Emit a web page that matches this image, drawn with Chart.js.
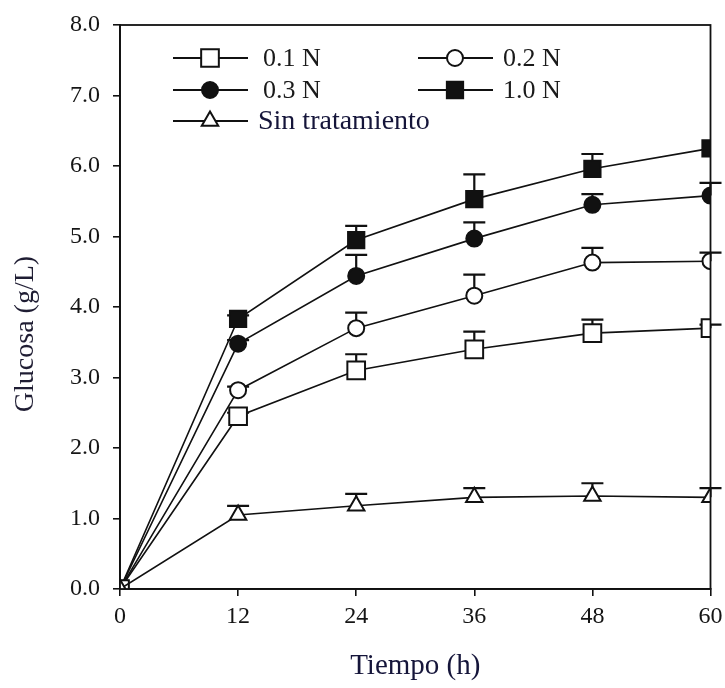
<!DOCTYPE html>
<html>
<head>
<meta charset="utf-8">
<script src="https://cdn.jsdelivr.net/npm/chart.js@4.4.1/dist/chart.umd.min.js"></script>
<style>
  html, body { margin: 0; padding: 0; background: #fff; }
  #wrap { width: 725px; height: 688px; }
</style>
</head>
<body>
<div id="wrap"><canvas id="glucosaChart"></canvas></div>
<script>
// tiempo (h)
const tiempo = [0, 12, 24, 36, 48, 60];
const yTicks = [0, 1, 2, 3, 4, 5, 6, 7, 8];

// glucosa (g/L) por tratamiento, con desviacion (solo barra superior)
const n01 = [0, 2.45, 3.10, 3.40, 3.63, 3.70];
const n01Err = [0, 0.05, 0.23, 0.25, 0.19, 0.05];
const n02 = [0, 2.82, 3.70, 4.16, 4.63, 4.65];
const n02Err = [0, 0.05, 0.22, 0.30, 0.21, 0.12];
const n03 = [0, 3.48, 4.44, 4.97, 5.45, 5.58];
const n03Err = [0, 0.05, 0.30, 0.23, 0.15, 0.18];
const n10 = [0, 3.83, 4.95, 5.53, 5.96, 6.25];
const n10Err = [0, 0.05, 0.20, 0.35, 0.21, 0.0];
const sinTrat = [0, 1.05, 1.18, 1.30, 1.32, 1.30];
const sinTratErr = [0, 0.13, 0.17, 0.13, 0.18, 0.13];

const serif = '"Liberation Serif", "DejaVu Serif", serif';

function serie(label, values, errs, style, filled, radius, legendRow, legendCol, fontSize, color) {
  return {
    label: label,
    data: tiempo.map((t, i) => ({ x: t, y: values[i] })),
    errs: errs,
    borderColor: '#111',
    borderWidth: 1.6,
    pointStyle: style,
    pointRadius: radius,
    pointHoverRadius: radius,
    pointBorderWidth: 2,
    pointBorderColor: '#111',
    pointBackgroundColor: filled ? '#111' : '#fff',
    tension: 0,
    legendRow: legendRow,
    legendCol: legendCol,
    legendFont: fontSize,
    legendColor: color
  };
}

// dataset 0 se dibuja encima
const datasets = [
  serie('Sin tratamiento', sinTrat, sinTratErr, 'triangle', false, 9.5, 2, 0, 28, '#15153a'),
  serie('0.1 N', n01, n01Err, 'rect', false, 12.5, 0, 0, 26, '#1a1a1a'),
  serie('0.2 N', n02, n02Err, 'circle', false, 8, 0, 1, 26, '#1a1a1a'),
  serie('0.3 N', n03, n03Err, 'circle', true, 8, 1, 0, 26, '#1a1a1a'),
  serie('1.0 N', n10, n10Err, 'rect', true, 11.5, 1, 1, 26, '#1a1a1a')
];

// barras de error hacia arriba con tope
const errorBars = {
  id: 'errorBars',
  beforeDatasetsDraw(chart) {
    const ctx = chart.ctx;
    const xs = chart.scales.x, ys = chart.scales.y;
    ctx.save();
    ctx.strokeStyle = '#111';
    ctx.lineWidth = 2.2;
    chart.data.datasets.forEach(ds => {
      ds.data.forEach((p, i) => {
        const e = ds.errs[i];
        if (!e) return;
        const px = xs.getPixelForValue(p.x);
        const y0 = ys.getPixelForValue(p.y);
        const y1 = ys.getPixelForValue(p.y + e);
        ctx.beginPath();
        ctx.moveTo(px, y0);
        ctx.lineTo(px, y1);
        ctx.moveTo(px - 11, y1);
        ctx.lineTo(px + 11, y1);
        ctx.stroke();
      });
    });
    ctx.restore();
  }
};

// marco completo del area de trazado y titulo vertical
const frame = {
  id: 'frame',
  afterDraw(chart) {
    const a = chart.chartArea, ctx = chart.ctx;
    ctx.save();
    ctx.strokeStyle = '#111';
    ctx.lineWidth = 1.8;
    ctx.strokeRect(a.left, a.top, a.right - a.left, a.bottom - a.top);
    ctx.translate(26, 334);
    ctx.rotate(-Math.PI / 2);
    ctx.font = '28px ' + serif;
    ctx.fillStyle = '#1f1d33';
    ctx.textAlign = 'center';
    ctx.textBaseline = 'middle';
    ctx.fillText('Glucosa (g/L)', 0, 0);
    ctx.restore();
  }
};

// leyenda en dos columnas dentro del area
const innerLegend = {
  id: 'innerLegend',
  afterDraw(chart) {
    const ctx = chart.ctx;
    const colX = [173, 418];
    const textX = [263, 503];
    const rowY = [58, 90, 121];
    ctx.save();
    chart.data.datasets.forEach(ds => {
      const x0 = colX[ds.legendCol], y = rowY[ds.legendRow];
      ctx.strokeStyle = '#111';
      ctx.lineWidth = 1.8;
      ctx.beginPath();
      ctx.moveTo(x0, y);
      ctx.lineTo(x0 + 75, y);
      ctx.stroke();
      ctx.fillStyle = ds.pointBackgroundColor;
      ctx.strokeStyle = '#111';
      ctx.lineWidth = 2;
      Chart.helpers.drawPoint(ctx, { pointStyle: ds.pointStyle, radius: ds.pointRadius, borderWidth: 2, rotation: 0 }, x0 + 37, y);
      ctx.fillStyle = ds.legendColor;
      ctx.font = ds.legendFont + 'px ' + serif;
      ctx.textBaseline = 'middle';
      ctx.fillText(ds.label, ds.legendRow === 2 ? 258 : textX[ds.legendCol], y + 1);
    });
    ctx.restore();
  }
};

new Chart(document.getElementById('glucosaChart'), {
  type: 'line',
  data: { datasets: datasets },
  plugins: [errorBars, frame, innerLegend],
  options: {
    responsive: true,
    maintainAspectRatio: false,
    animation: false,
    layout: { padding: { left: 0, right: 13, top: 25, bottom: 0 } },
    plugins: { legend: { display: false }, tooltip: { enabled: false } },
    scales: {
      x: {
        type: 'linear',
        min: 0,
        max: 60,
        afterFit(scale) { scale.height = 99; scale.paddingRight = 0; scale.paddingLeft = 0; },
        afterBuildTicks(scale) { scale.ticks = tiempo.map(v => ({ value: v })); },
        border: { display: true, color: '#111', width: 1.8 },
        grid: { display: true, drawOnChartArea: false, drawTicks: true, tickLength: 7, color: '#111', lineWidth: 1.6 },
        ticks: { padding: 6, color: '#151515', font: { family: serif, size: 24 }, maxRotation: 0 },
        title: { display: true, text: 'Tiempo (h)', color: '#15153a', font: { family: serif, size: 29 }, padding: { top: 0, bottom: 4 } }
      },
      y: {
        min: 0,
        max: 8,
        afterFit(scale) { scale.width = 120; scale.paddingTop = 0; scale.paddingBottom = 0; },
        afterBuildTicks(scale) { scale.ticks = yTicks.map(v => ({ value: v })); },
        border: { display: true, color: '#111', width: 1.8 },
        grid: { display: true, drawOnChartArea: false, drawTicks: true, tickLength: 7, color: '#111', lineWidth: 1.6 },
        ticks: { padding: 13, color: '#151515', font: { family: serif, size: 24 }, callback: v => Number(v).toFixed(1) },
        title: { display: false }
      }
    }
  }
});
</script>
</body>
</html>
